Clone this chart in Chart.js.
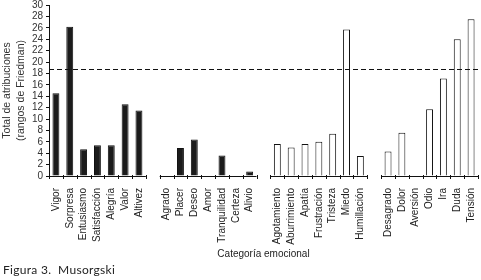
<!DOCTYPE html>
<html>
<head>
<meta charset="utf-8">
<script src="https://cdn.jsdelivr.net/npm/chart.js@4/dist/chart.umd.min.js"></script>
<style>
  html, body { margin: 0; padding: 0; background: #fff; }
  #wrap { position: relative; width: 481px; height: 280px; }
  #caption { position: absolute; left: 3px; top: 262px; font: 12px Lato, "Open Sans", sans-serif; color: #222; letter-spacing: 0.3px; }
</style>
</head>
<body>
<div id="wrap">
  <canvas id="chart" width="481" height="280"></canvas>
  <div id="caption">Figura 3.&nbsp; Musorgski</div>
</div>
<script>
// --- Data ---
const positivos = ['Vigor', 'Sorpresa', 'Entusiasmo', 'Satisfacción', 'Alegría', 'Valor', 'Altivez'];
const valPositivos = [14.5, 26.2, 4.7, 5.4, 5.4, 12.6, 11.5];
const calma = ['Agrado', 'Placer', 'Deseo', 'Amor', 'Tranquilidad', 'Certeza', 'Alivio'];
const valCalma = [0, 4.9, 6.4, 0, 3.6, 0, 0.8];
const tristes = ['Agotamiento', 'Aburrimiento', 'Apatía', 'Frustración', 'Tristeza', 'Miedo', 'Humillación'];
const valTristes = [5.6, 5.0, 5.6, 6.0, 7.4, 25.7, 3.5];
const hostiles = ['Desagrado', 'Dolor', 'Aversión', 'Odio', 'Ira', 'Duda', 'Tensión'];
const valHostiles = [4.3, 7.6, 0, 11.7, 17.1, 24.0, 27.5];
const umbral = 18.7;   // linea discontinua
const yMin = 0, yMax = 30, yStep = 2;

// build slots with an empty slot between groups
const groups = [[positivos, valPositivos, true], [calma, valCalma, true], [tristes, valTristes, false], [hostiles, valHostiles, false]];
const labels = [], values = [], fills = [], groupRanges = [];
groups.forEach(([cats, vals, dark], g) => {
    if (g > 0) { labels.push(''); values.push(null); fills.push('#fff'); }
    groupRanges.push([labels.length, labels.length + cats.length - 1]);
    cats.forEach((c, i) => { labels.push(c); values.push(vals[i]); fills.push(dark ? '#1b1b1b' : '#fff'); });
});

// axis segments + dashed threshold
const decor = {
    id: 'decor',
    afterDatasetsDraw(chart) {
        const { ctx, chartArea, scales: { x, y } } = chart;
        const slot = x.width / labels.length;
        const b = chartArea.bottom;
        ctx.save();
        ctx.strokeStyle = '#111';
        ctx.lineWidth = 1;
        groupRanges.forEach(([s, e]) => {
            const left = x.getPixelForValue(s) - slot / 2;
            const right = x.getPixelForValue(e) + slot / 2;
            ctx.beginPath();
            ctx.moveTo(left, b + 0.5); ctx.lineTo(right, b + 0.5);
            for (let i = s; i <= e + 1; i++) {
                const px = Math.round(left + (i - s) * slot) + 0.5;
                ctx.moveTo(px, b - 1); ctx.lineTo(px, b + 3);
            }
            ctx.stroke();
        });
        const yp = Math.round(y.getPixelForValue(umbral)) + 0.5;
        ctx.setLineDash([5, 3]);
        ctx.beginPath();
        ctx.moveTo(chartArea.left, yp); ctx.lineTo(chartArea.right + 3, yp);
        ctx.stroke();
        ctx.restore();
    }
};

new Chart(document.getElementById('chart'), {
    type: 'bar',
    data: {
        labels: labels,
        datasets: [{
            data: values,
            backgroundColor: fills,
            borderColor: '#111',
            borderWidth: 1,
            borderSkipped: 'bottom',
            barPercentage: 0.5,
            categoryPercentage: 1
        }]
    },
    options: {
        responsive: false,
        animation: false,
        layout: { padding: { top: 5, right: 3, left: 0, bottom: 18 } },
        plugins: { legend: { display: false }, tooltip: { enabled: false } },
        scales: {
            x: {
                grid: { display: false },
                border: { display: false },
                ticks: { autoSkip: false, minRotation: 90, maxRotation: 90, padding: 4, color: '#222', font: { family: 'Liberation Sans, Arial', size: 10 } },
                title: { display: true, text: 'Categoría emocional', color: '#222', padding: { top: 2, bottom: 2 }, font: { family: 'Liberation Sans, Arial', size: 10 } },
                afterFit: s => { s.height = 86; s.paddingLeft = 0; s.paddingRight = 0; }
            },
            y: {
                min: yMin, max: yMax,
                ticks: { stepSize: yStep, autoSkip: false, padding: 3, color: '#333', font: { family: 'Liberation Sans, Arial', size: 10 } },
                grid: { drawOnChartArea: false, drawTicks: true, tickLength: 3, color: '#111' },
                border: { display: true, color: '#111', width: 1 },
                title: { display: true, text: ['Total de atribuciones', '(rangos de Friedman)'], color: '#333', padding: { top: 0, bottom: 4 }, font: { family: 'Liberation Sans, Arial', size: 10.5, lineHeight: 1.35 } },
                afterFit: s => { s.width = 49; s.paddingTop = 0; s.paddingBottom = 0; }
            }
        }
    },
    plugins: [decor]
});
</script>
</body>
</html>
